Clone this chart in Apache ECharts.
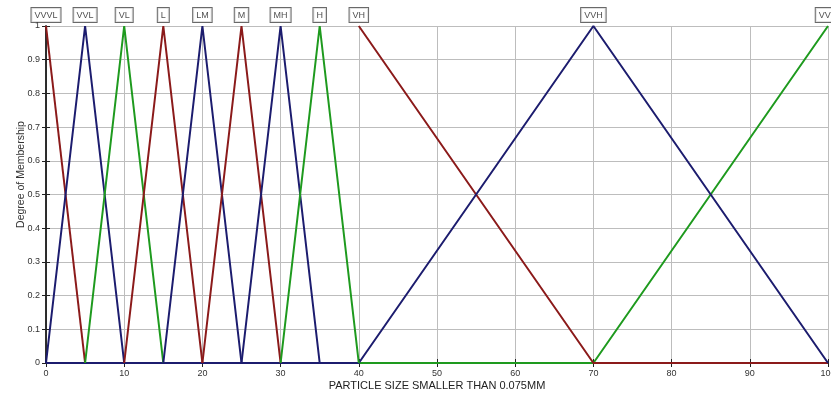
<!DOCTYPE html>
<html>
<head>
<meta charset="utf-8">
<script src="https://cdn.jsdelivr.net/npm/echarts@6/dist/echarts.min.js"></script>
<style>html,body{margin:0;padding:0;background:#fff}#c{width:831px;height:394px}</style>
</head>
<body>
<div id="c"></div>
<script>
const xTicks = [0,10,20,30,40,50,60,70,80,90,100];
const yTicks = [0,0.1,0.2,0.3,0.4,0.5,0.6,0.7,0.8,0.9,1];

const mfVVVL = [[0,1],[5,0]];
const mfVVL  = [[0,0],[5,1],[10,0]];
const mfVL   = [[5,0],[10,1],[15,0]];
const mfL    = [[10,0],[15,1],[20,0]];
const mfLM   = [[15,0],[20,1],[25,0]];
const mfM    = [[20,0],[25,1],[30,0]];
const mfMH   = [[25,0],[30,1],[35,0]];
const mfH    = [[30,0],[35,1],[40,0]];
const mfVH   = [[40,1],[70,0],[100,0]];
const mfVVH  = [[0,0],[40,0],[70,1],[100,0]];
const mfVVH2 = [[0,0],[70,0],[100,1]];

const labelNames = ['VVVL','VVL','VL','L','LM','M','MH','H','VH','VVH','VVH'];
const labelX = [0,5,10,15,20,25,30,35,40,70,100];

const RED = '#8B1A1A', BLUE = '#1C1C6E', GREEN = '#1E9A1E';

function line(name, data, color) {
  return { name, type: 'line', data, symbol: 'none', lineStyle: { color, width: 2 }, itemStyle:{color}, animation: false, z: 3 };
}

const chart = echarts.init(document.getElementById('c'));
const axisTxt = { color: '#333', fontSize: 9, fontFamily: 'Arial, Liberation Sans, sans-serif' };
chart.setOption({
  animation: false,
  grid: { left: 46, right: 3, top: 26, bottom: 31, containLabel: false, outerBoundsMode: 'none' },
  xAxis: [{
    type: 'value', min: 0, max: 100, interval: 10,
    axisLine: { show: true, onZero: false, lineStyle: { color: '#222', width: 1.5 } },
    axisTick: { inside: true, length: 4, lineStyle: { color: '#222' } },
    axisLabel: Object.assign({ margin: 6 }, axisTxt),
    splitLine: { show: true, lineStyle: { color: '#bdbdbd', width: 1 } },
    name: 'PARTICLE SIZE SMALLER THAN 0.075MM', nameLocation: 'middle', nameGap: 17, nameMoveOverlap: false,
    nameTextStyle: { color: '#222', fontSize: 11, fontFamily: 'Arial, Liberation Sans, sans-serif' }
  },{
    type: 'value', position: 'top', min: 0, max: 100, interval: 10,
    axisLine: { show: true, lineStyle: { color: '#222', width: 1.5 } },
    axisTick: { inside: true, length: 4, lineStyle: { color: '#222' } },
    axisLabel: { show: false }, splitLine: { show: false }
  }],
  yAxis: [{
    type: 'value', min: 0, max: 1, interval: 0.1,
    axisLine: { show: true, onZero: false, lineStyle: { color: '#222', width: 1.5 } },
    axisTick: { show: true, inside: true, length: 4, lineStyle: { color: '#222' } },
    axisLabel: Object.assign({ margin: 6, formatter: v => String(Math.round(v*10)/10) }, axisTxt),
    splitLine: { show: true, lineStyle: { color: '#bdbdbd', width: 1 } },
    name: 'Degree of Membership', nameLocation: 'middle', nameGap: 19, nameMoveOverlap: false,
    nameTextStyle: { color: '#333', fontSize: 10.5, fontFamily: 'Arial, Liberation Sans, sans-serif', padding: [0,0,0,40] }
  },{
    type: 'value', position: 'right', min: 0, max: 1, interval: 0.1,
    axisLine: { show: true, lineStyle: { color: '#222', width: 1.5 } },
    axisTick: { show: true, inside: true, length: 4, lineStyle: { color: '#222' } },
    axisLabel: { show: false }, splitLine: { show: false }
  }],
  series: [
    line('VVH2', mfVVH2, GREEN),
    line('VH', mfVH, RED),
    line('VVH', mfVVH, BLUE),
    line('VVVL', mfVVVL, RED),
    line('VVL', mfVVL, BLUE),
    line('VL', mfVL, GREEN),
    line('L', mfL, RED),
    line('LM', mfLM, BLUE),
    line('M', mfM, RED),
    line('MH', mfMH, BLUE),
    line('H', mfH, GREEN),
    {
      type: 'scatter', symbolSize: 0, silent: true, clip: false, z: 5,
      data: labelX.map((x, i) => ({ value: [x, 1], name: labelNames[i] })),
      label: {
        show: true, position: 'top', distance: 4, formatter: p => p.name,
        fontSize: 9, color: '#222', fontFamily: 'Arial, Liberation Sans, sans-serif',
        backgroundColor: '#fff', borderColor: '#444', borderWidth: 1, padding: [3, 3, 2, 3]
      }
    }
  ]
});
</script>
</body>
</html>
